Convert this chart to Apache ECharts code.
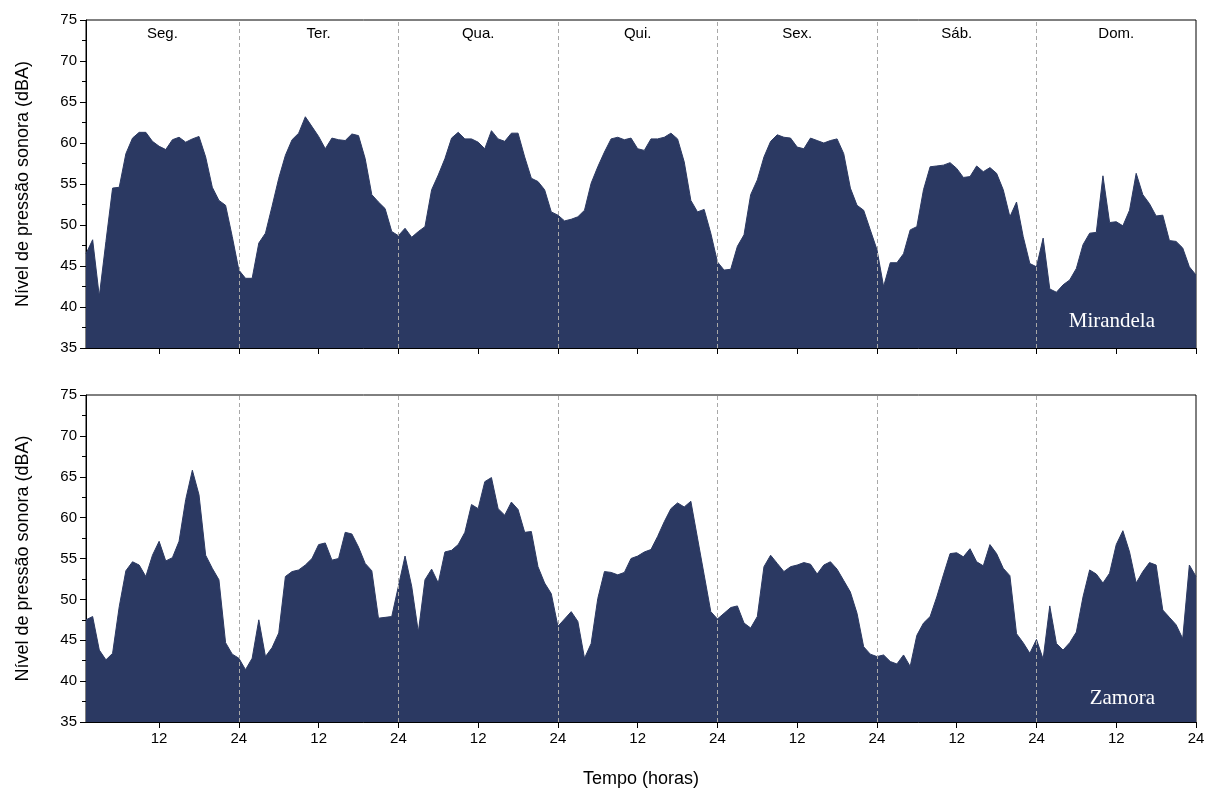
<!DOCTYPE html>
<html>
<head>
<meta charset="utf-8">
<script src="https://cdn.jsdelivr.net/npm/echarts@6/dist/echarts.min.js"></script>
<style>
  html, body { margin: 0; padding: 0; background: #fff; }
  #chart { width: 1217px; height: 794px; }
</style>
</head>
<body>
<div id="chart"></div>
<script>
// hourly levels, hour 1..168 (Mon..Sun)
const mirandela = [
  46.5, 48.2, 41.3, 48.0, 54.5, 54.6, 58.7, 60.6, 61.3, 61.3, 60.2, 59.6,
  59.2, 60.4, 60.7, 60.1, 60.5, 60.8, 58.3, 54.6, 53.0, 52.4, 48.6, 44.5,
  43.5, 43.5, 47.8, 49.0, 52.3, 55.7, 58.5, 60.4, 61.2, 63.2, 62.0, 60.8,
  59.3, 60.6, 60.4, 60.3, 61.1, 60.9, 58.1, 53.7, 52.8, 52.0, 49.2, 48.7,
  49.6, 48.5, 49.2, 49.8, 54.3, 56.1, 58.1, 60.6, 61.3, 60.5, 60.5, 60.1,
  59.3, 61.5, 60.5, 60.2, 61.2, 61.2, 58.3, 55.7, 55.3, 54.3, 51.6, 51.2,
  50.5, 50.7, 51.0, 51.8, 55.1, 57.1, 58.9, 60.5, 60.7, 60.4, 60.6, 59.3,
  59.1, 60.5, 60.5, 60.7, 61.2, 60.5, 57.7, 53.0, 51.6, 51.9, 49.0, 45.5,
  44.5, 44.6, 47.4, 48.8, 53.7, 55.5, 58.3, 60.2, 61.0, 60.7, 60.6, 59.5,
  59.3, 60.6, 60.3, 60.0, 60.3, 60.5, 58.7, 54.5, 52.4, 51.8, 49.4, 47.0,
  42.5, 45.4, 45.4, 46.5, 49.4, 49.8, 54.3, 57.1, 57.2, 57.3, 57.6, 56.9,
  55.8, 55.9, 57.2, 56.5, 57.0, 56.3, 54.3, 51.0, 52.8, 48.6, 45.3, 44.9,
  48.4, 42.2, 41.8, 42.7, 43.3, 44.7, 47.6, 49.0, 49.1, 56.0, 50.3, 50.4,
  49.9, 51.8, 56.3, 53.7, 52.6, 51.1, 51.2, 48.1, 48.0, 47.2, 44.9, 43.9
];
const zamora = [
  47.5, 47.9, 43.8, 42.6, 43.4, 49.1, 53.5, 54.6, 54.2, 52.8, 55.4, 57.1,
  54.7, 55.1, 57.1, 62.2, 65.8, 62.8, 55.4, 53.8, 52.4, 44.7, 43.3, 42.8,
  41.4, 42.8, 47.5, 43.0, 44.1, 45.9, 52.8, 53.4, 53.6, 54.2, 55.0, 56.7,
  56.9, 54.8, 55.0, 58.2, 58.0, 56.4, 54.4, 53.5, 47.7, 47.8, 47.9, 51.6,
  55.3, 51.6, 46.0, 52.4, 53.7, 52.0, 55.8, 56.0, 56.7, 58.2, 61.6, 61.1,
  64.4, 64.9, 61.1, 60.3, 61.9, 61.0, 58.2, 58.3, 54.0, 52.0, 50.7, 46.7,
  47.6, 48.5, 47.3, 42.8, 44.6, 50.1, 53.4, 53.3, 53.0, 53.3, 55.0, 55.3,
  55.8, 56.1, 57.7, 59.5, 61.1, 61.8, 61.3, 62.0, 57.5, 53.0, 48.5, 47.6,
  48.3, 49.0, 49.2, 47.1, 46.5, 47.9, 54.0, 55.4, 54.4, 53.4, 54.0, 54.2,
  54.5, 54.3, 53.1, 54.2, 54.6, 53.7, 52.3, 50.9, 48.3, 44.2, 43.3, 43.0,
  43.2, 42.4, 42.1, 43.2, 41.8, 45.6, 47.1, 47.9, 50.3, 53.0, 55.6, 55.7,
  55.2, 56.2, 54.6, 54.1, 56.7, 55.6, 53.8, 52.9, 45.8, 44.7, 43.4, 45.1,
  42.7, 49.2, 44.6, 43.8, 44.7, 46.0, 50.3, 53.6, 53.1, 52.0, 53.2, 56.7,
  58.4, 55.8, 52.0, 53.4, 54.5, 54.2, 48.7, 47.8, 46.9, 45.2, 54.2, 52.8
];
const days = ["Seg.", "Ter.", "Qua.", "Qui.", "Sex.", "Sáb.", "Dom."];
const dayEdges = [1, 24, 48, 72, 96, 120, 144, 168];
const hourTicks = [12, 24, 36, 48, 60, 72, 84, 96, 108, 120, 132, 144, 156, 168];
const yTicks = [35, 40, 45, 50, 55, 60, 65, 70, 75];

const navy = "#2b3962";
const sans = "Liberation Sans";

const chart = echarts.init(document.getElementById("chart"));

const toPoints = (arr) => arr.map((v, i) => [i + 1, v]);

const dividers = {
  silent: true,
  symbol: "none",
  label: { show: false },
  lineStyle: { color: "#a8a8a8", type: [4, 3], width: 1 },
  data: dayEdges.slice(1, -1).map((d) => ({ xAxis: d })),
};

const xAxisBase = (gi, withLabels) => ({
  type: "value",
  gridIndex: gi,
  min: 1,
  max: 168,
  axisLine: { lineStyle: { color: "#000", width: 1 } },
  axisTick: {
    show: true,
    inside: false,
    length: 6,
    customValues: hourTicks,
    lineStyle: { color: "#000" },
  },
  axisLabel: {
    show: withLabels,
    customValues: hourTicks,
    formatter: (v) => (v % 24 === 0 ? "24" : "12"),
    color: "#000",
    fontFamily: sans,
    fontSize: 15,
    margin: 9,
  },
  splitLine: { show: false },
  name: withLabels ? "Tempo (horas)" : "",
  nameLocation: "middle",
  nameGap: 48,
  nameTextStyle: { color: "#000", fontFamily: sans, fontSize: 18 },
});

const yAxisBase = (gi) => ({
  type: "value",
  gridIndex: gi,
  min: 35,
  max: 75,
  interval: 5,
  axisLine: { show: true, lineStyle: { color: "#000", width: 1 } },
  axisTick: { show: true, inside: false, length: 6, lineStyle: { color: "#000" } },
  minorTick: { show: true, splitNumber: 2, length: 4, lineStyle: { color: "#000" } },
  axisLabel: {
    color: "#000",
    fontFamily: sans,
    fontSize: 15,
    margin: 9,
    formatter: (v) => (yTicks.includes(v) ? String(v) : ""),
  },
  splitLine: { show: false },
  name: "Nível de pressão sonora (dBA)",
  nameLocation: "middle",
  nameGap: 54,
  nameTextStyle: { color: "#000", fontFamily: sans, fontSize: 18 },
});

chart.setOption({
  animation: false,
  title: [
    {
      text: "Mirandela",
      right: 57,
      top: 306,
      textStyle: { color: "#fff", fontFamily: "Liberation Serif", fontSize: 21, fontWeight: "normal" },
    },
    {
      text: "Zamora",
      right: 57,
      top: 683,
      textStyle: { color: "#fff", fontFamily: "Liberation Serif", fontSize: 21, fontWeight: "normal" },
    },
  ],
  grid: [
    { left: 86, right: 21, top: 20, height: 328, show: true, borderColor: "#000", borderWidth: 1, backgroundColor: "transparent" },
    { left: 86, right: 21, top: 395, height: 327, show: true, borderColor: "#000", borderWidth: 1, backgroundColor: "transparent" },
  ],
  xAxis: [xAxisBase(0, false), xAxisBase(1, true)],
  yAxis: [yAxisBase(0), yAxisBase(1)],
  series: [
    {
      name: "Mirandela",
      type: "line",
      xAxisIndex: 0,
      yAxisIndex: 0,
      data: toPoints(mirandela),
      symbol: "none",
      lineStyle: { color: navy, width: 1 },
      areaStyle: { color: navy, opacity: 1, origin: "start" },
      markLine: dividers,
      markArea: {
        silent: true,
        itemStyle: { color: "transparent" },
        label: {
          show: true,
          position: "insideTop",
          distance: 6,
          color: "#000",
          fontFamily: sans,
          fontSize: 15,
        },
        data: days.map((d, i) => [{ name: d, xAxis: dayEdges[i] }, { xAxis: dayEdges[i + 1] }]),
      },
      z: 2,
    },
    {
      name: "Zamora",
      type: "line",
      xAxisIndex: 1,
      yAxisIndex: 1,
      data: toPoints(zamora),
      symbol: "none",
      lineStyle: { color: navy, width: 1 },
      areaStyle: { color: navy, opacity: 1, origin: "start" },
      markLine: dividers,
      z: 2,
    },
  ],
});
</script>
</body>
</html>
